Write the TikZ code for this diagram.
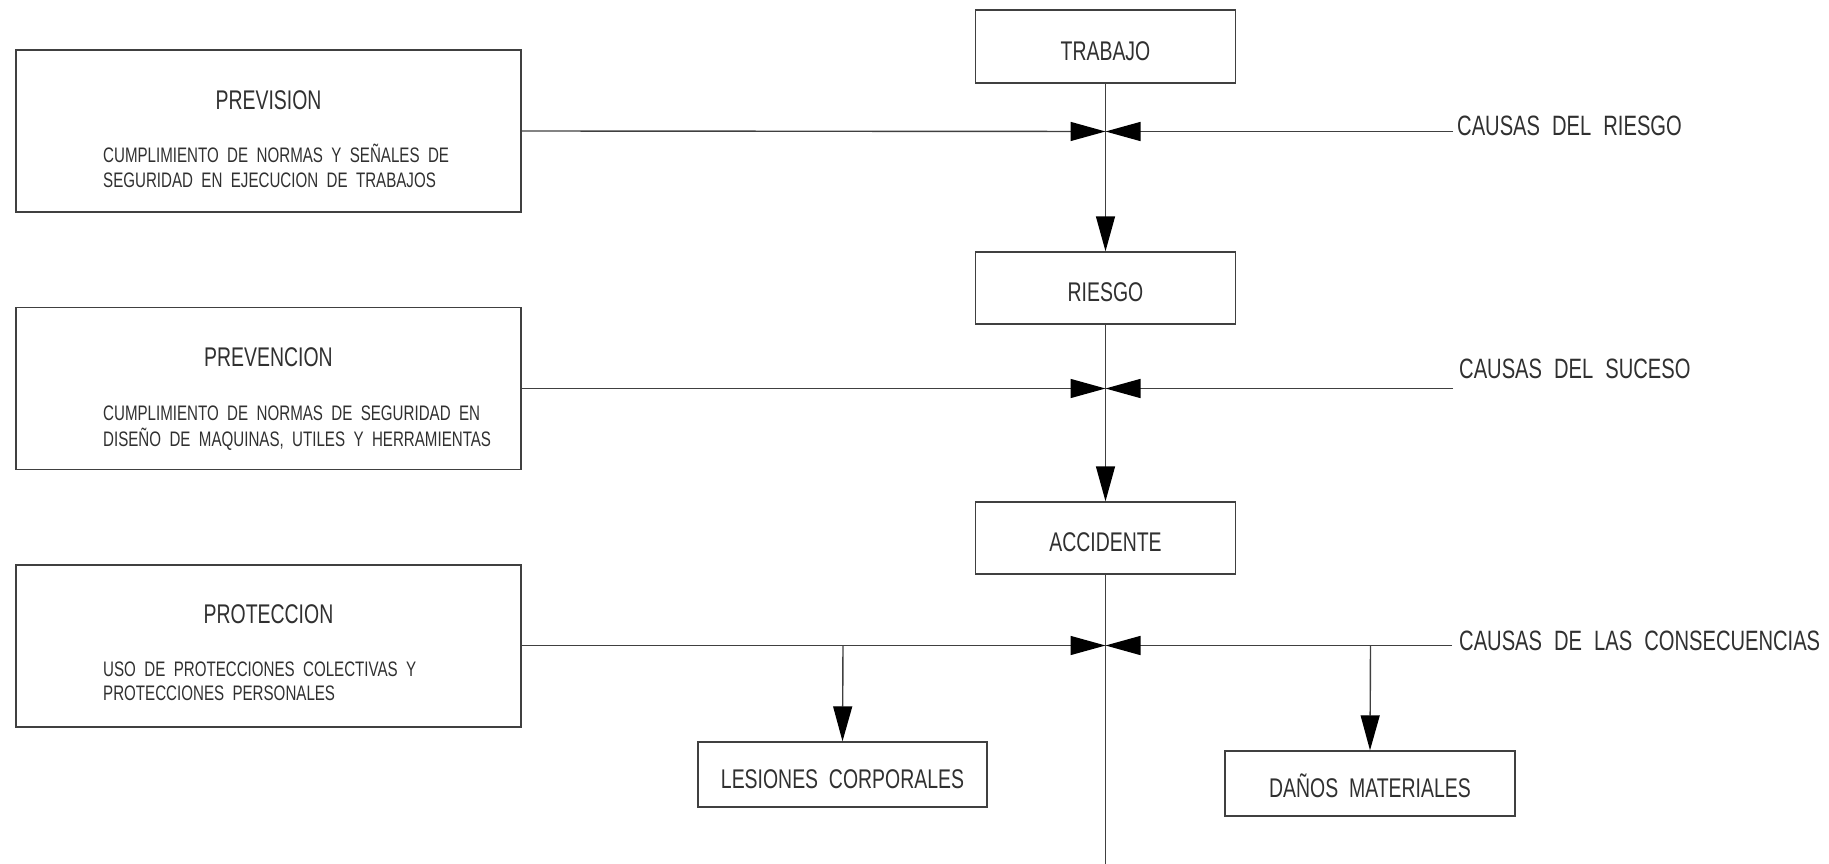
\documentclass[tikz,border=0pt]{standalone}
\usepackage{fontspec}
\setmainfont{Liberation Sans}[FakeStretch=0.72,WordSpace=2]
\newfontfamily\labelfam{Liberation Sans}[FakeStretch=0.72,WordSpace=2.15]
\usetikzlibrary{arrows.meta}
\definecolor{ln}{HTML}{404040}
\definecolor{tx}{HTML}{303030}
\newcommand{\ftitlefont}{\fontsize{27}{30}\selectfont}
\newcommand{\fbodyfont}{\fontsize{21}{25}\selectfont}
\newcommand{\flabelfont}{\labelfam\fontsize{28}{30}\selectfont}
\begin{document}
\begin{tikzpicture}[x=1pt,y=-1pt,
  conn/.style={draw=ln, line width=1.4pt},
  arr/.style={conn, -{Triangle[length=35pt,width=19pt,color=black]}},
  flowbox/.style={draw=ln, line width=1.4pt, rectangle, inner sep=0pt,
    text=tx, font=\ftitlefont, text height=27.3pt, text depth=0pt},
  bigbox/.style={draw=ln, line width=1.4pt, rectangle, inner sep=0pt,
    minimum width=505pt, minimum height=162pt},
  boxtitle/.style={inner sep=0pt, text=tx, font=\ftitlefont, text height=19.3pt, text depth=0pt},
  boxbody/.style={inner sep=0pt, anchor=west, text=tx, font=\fbodyfont, text height=15pt, text depth=0pt},
  causelabel/.style={inner sep=0pt, anchor=west, text=tx, font=\flabelfont, text height=20pt, text depth=0pt}
]
\useasboundingbox (0,0) rectangle (1829,864);

% central column
\node[flowbox, minimum width=260pt, minimum height=73pt] (trabajo) at (1105.5,46.5) {TRABAJO};
\node[flowbox, minimum width=260pt, minimum height=72pt] (riesgo) at (1105.5,288) {RIESGO};
\node[flowbox, minimum width=260pt, minimum height=72pt] (accidente) at (1105.5,538) {ACCIDENTE};

% left boxes
\node[bigbox] (prevision) at (268.5,131) {};
\node[bigbox] (prevencion) at (268.5,388.5) {};
\node[bigbox] (proteccion) at (268.5,646) {};

\node[boxtitle] (t1) at (268.5,100) {PREVISION};
\node[boxbody] (b1a) at (103,155) {CUMPLIMIENTO DE NORMAS Y SEÑALES DE};
\node[boxbody] (b1b) at (103,180) {SEGURIDAD EN EJECUCION DE TRABAJOS};

\node[boxtitle] (t2) at (268.5,357) {PREVENCION};
\node[boxbody] (b2a) at (103,413) {CUMPLIMIENTO DE NORMAS DE SEGURIDAD EN};
\node[boxbody] (b2b) at (103,438.5) {DISEÑO DE MAQUINAS, UTILES Y HERRAMIENTAS};

\node[boxtitle] (t3) at (268.5,614) {PROTECCION};
\node[boxbody] (b3a) at (103,669) {USO DE PROTECCIONES COLECTIVAS Y};
\node[boxbody] (b3b) at (103,693) {PROTECCIONES PERSONALES};

% result boxes
\node[flowbox, minimum width=289pt, minimum height=65pt] (lesiones) at (842.5,774.5) {LESIONES CORPORALES};
\node[flowbox, minimum width=290pt, minimum height=65pt] (danos) at (1370,783.5) {DAÑOS MATERIALES};

% coordinates
\coordinate (c1) at (1105.5,131.5);
\coordinate (c2) at (1105.5,388.5);
\coordinate (c3) at (1105.5,645.5);
\coordinate (r1) at (1453,131.5);
\coordinate (r2) at (1453,388.5);
\coordinate (r3) at (1452,645.5);
\coordinate (bottomend) at (1105.5,864);
\coordinate (j1) at (843,645.5);
\coordinate (j2) at (1370.5,645.5);

% cause labels
\node[causelabel] (l1) at (1457,125.5) {CAUSAS DEL RIESGO};
\node[causelabel] (l2) at (1459,368) {CAUSAS DEL SUCESO};
\node[causelabel] (l3) at (1459,640) {CAUSAS DE LAS CONSECUENCIAS};

% vertical flow
\draw[arr] (trabajo.south) -- (riesgo.north);
\draw[arr] (riesgo.south) -- (accidente.north);
\draw[conn] (accidente.south) -- (bottomend);

% horizontal lines
\draw[arr] (prevision.east) -- (c1);
\draw[arr] (r1) -- (c1);
\draw[arr] (prevencion.east) -- (c2);
\draw[arr] (r2) -- (c2);
\draw[arr] (proteccion.east |- c3) -- (c3);
\draw[arr] (r3) -- (c3);

% branches
\draw[arr] (j1) -- (lesiones.north);
\draw[arr] (j2) -- (danos.north);
\end{tikzpicture}
\end{document}
